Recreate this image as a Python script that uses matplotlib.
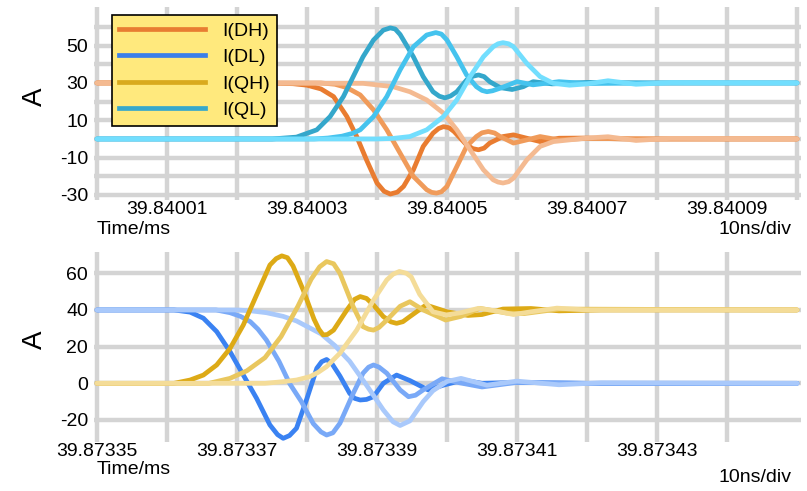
import matplotlib

matplotlib.use("Agg")

import matplotlib.pyplot as plt
from matplotlib.lines import Line2D

plt.rcParams["font.family"] = ["Liberation Sans", "DejaVu Sans"]

# time axis is in ns from the left edge of each panel (10 ns per grid division)
TOP_XTICKS = [0, 10, 20, 30, 40, 50, 60, 70, 80, 90, 100]
TOP_XLABELS = ["", "39.84001", "", "39.84003", "", "39.84005", "", "39.84007", "", "39.84009", ""]
TOP_YTICKS = [-30, -20, -10, 0, 10, 20, 30, 40, 50, 60]
TOP_YLABELS = ["-30", "", "-10", "", "10", "", "30", "", "50", ""]

BOT_XTICKS = [0, 10, 20, 30, 40, 50, 60, 70, 80, 90]
BOT_XLABELS = ["39.87335", "", "39.87337", "", "39.87339", "", "39.87341", "", "39.87343", ""]
BOT_YTICKS = [-20, 0, 20, 40, 60]
BOT_YLABELS = ["-20", "0", "20", "40", "60"]

# I(DH), three switching events (dark -> light)
DH1_T = [0, 24, 28, 30, 32, 33.8, 35.7, 37.1, 38.5, 40, 41, 41.9, 42.9, 43.8, 45.2, 46.6, 48, 48.8, 49.5,
         50.3, 51, 52.8, 53.7, 54.5, 55.3, 56.1, 58, 59.5, 61.4, 63.3, 66, 70, 75, 80, 100]
DH1_V = [30, 30, 29.6, 28.8, 26.8, 22.7, 12, 1.3, -11.2, -23.6, -28, -29.5, -28.5, -25.4, -16.5, -4, 3.1, 5.6, 6.6,
         6.0, 4, -3.2, -5.2, -5.8, -4.9, -2.2, 1.3, 2.2, 0.4, -1.4, 0.4, 0.5, 0, 0, 0]
DH2_T = [0, 32, 34, 35.7, 37.6, 39.5, 41.4, 43.3, 45.2, 47.1, 47.8, 48.5, 49.2, 50, 51.4, 52.8, 54.2, 55,
         55.9, 56.8, 57.6, 59.5, 61.4, 63.3, 66, 70, 80, 100]
DH2_V = [30, 30, 29.3, 27.5, 23.6, 15.6, 4.9, -7.6, -20.1, -27.2, -28.6, -29, -28.3, -25.4, -14.8, -4, 1.3, 3.3,
         4, 3.2, 1.3, -2.2, -0.5, 1.3, -0.5, 0.3, 0, 0]
DH3_T = [0, 38, 42.3, 44.7, 47.1, 49.5, 51.4, 53.3, 55.2, 56.6, 57.3, 58, 58.8, 59.5, 61.4, 63.3, 65.2,
         67.5, 70, 73, 77, 82, 100]
DH3_V = [30, 29.8, 28, 25.3, 20.9, 13.8, 4.9, -5.8, -16.5, -21.9, -23.1, -23.6, -22.9, -21, -11.2, -4, -1.4,
         -0.5, 0.5, 1.2, -0.8, 0.3, 0]

# I(QL)
QL1_T = [0, 25, 28.5, 31.4, 33.3, 35.2, 36.6, 38, 39.5, 40.9, 41.9, 42.6, 43.3, 45.2, 46.6, 48, 48.9, 49.7,
         50.5, 51.4, 52.8, 53.7, 54.5, 55.3, 56.1, 57.6, 59.3, 60.9, 62.3, 65, 70, 80, 100]
QL1_V = [0, 0, 1, 4.9, 12, 22.7, 33.4, 44, 53, 58.3, 59.5, 58.9, 56, 44, 33.4, 25.3, 22.9, 22,
         23, 25.3, 31.6, 33.6, 34.3, 33.4, 30.7, 27.5, 26.5, 28, 30.7, 29.5, 30.3, 30, 30]
QL2_T = [0, 31, 33, 35, 36.5, 37.6, 39.5, 41.4, 43.3, 45.2, 47.1, 48.4, 49.2, 50, 51.4, 52.8, 54.2, 55,
         55.7, 56.5, 57.6, 60, 62.3, 66, 70, 80, 100]
QL2_V = [0, 0, 0.5, 1.5, 3, 4.9, 12, 22.7, 37, 49.4, 55.7, 57, 56.2, 53, 44, 34.3, 28, 26,
         25.3, 25.8, 27.2, 30.7, 29, 30.7, 29.7, 30, 30]
QL3_T = [0, 40, 42.3, 44.7, 47.1, 49.5, 51.4, 53.3, 55.2, 56.6, 57.3, 58, 58.8, 59.5, 61.4, 63.3, 65.2,
         67.5, 70, 73, 77, 82, 100]
QL3_V = [0, 0, 0.3, 1.3, 4.9, 12, 20.9, 33.4, 44, 49.4, 51, 51.6, 51, 49.4, 40.5, 33.4, 29.8,
         28.8, 29.5, 31.2, 29.3, 30.2, 30]

# I(DL)
DL1_T = [0, 11, 13.3, 15.2, 17.1, 19, 20.9, 22.8, 24.7, 25.8, 26.6, 27.5, 28.5, 30, 31.4, 32.1, 32.8, 33.6,
         34.7, 36.1, 36.8, 37.6, 38.5, 39.5, 40.9, 42.8, 44.7, 47.3, 49.5, 52.3, 55, 60, 70, 100]
DL1_V = [40, 40, 38.8, 35.5, 28.2, 17.3, 4.5, -8.2, -22.7, -28, -30, -28.5, -24.5, -8.2, 8.2, 11.8, 13, 10.5,
         4, -5.5, -8.2, -9.1, -8.8, -7.3, 0, 4.5, 1.5, -3.6, -1, 1.8, 0, 0.5, 0, 0]
DL2_T = [0, 17, 19, 20.5, 21.9, 23, 24.2, 26, 27.5, 29.2, 30.9, 32, 32.8, 33.7, 34.7, 36.6, 38, 38.8, 39.5,
         40.3, 41.4, 43.3, 44.5, 45.5, 46.6, 49.3, 51.5, 55, 60, 70, 100]
DL2_V = [40, 40, 38.5, 36.5, 33.6, 29.5, 23.6, 12, 0, -10, -22, -26.5, -28.2, -27, -21.8, -5.5, 5.5, 8.8, 10,
         8.8, 5.5, -3.6, -7.3, -6.5, -3.6, 2.5, 0.5, -2, 0.5, 0, 0]
DL3_T = [0, 20, 22, 24.2, 26.6, 28.5, 30, 32, 34, 36.1, 38.5, 40.9, 42.3, 43.3, 44.7, 46.6, 48, 50, 52,
         55.7, 60, 66, 72, 100]
DL3_V = [40, 40, 39.5, 38.5, 36.5, 34, 31, 27, 20.5, 12, -1, -14.5, -21, -23, -20.5, -10, -4, 1, 2.7,
         -1, 1.2, -0.8, 0.3, 0]

# I(QH)
QH1_T = [0, 11, 13.3, 15.2, 17.1, 19, 20.9, 22.8, 24.7, 25.6, 26.4, 27.2, 28, 29.5, 31, 31.7, 32.3, 32.9,
         33.8, 35.7, 36.8, 37.6, 38.5, 39.5, 40.9, 42, 42.8, 43.7, 44.7, 47, 50, 53, 55, 58, 62, 66, 72, 100]
QH1_V = [0, 0, 1.8, 4.5, 10, 19, 31.8, 48.2, 64.5, 68, 69.5, 68.5, 64, 50.5, 35, 29.5, 26.4, 26.6,
         29, 40, 45.8, 47.3, 46.3, 42.7, 36.4, 33.5, 32.7, 33.6, 36.4, 42.7, 39, 37, 37.5, 40.5, 40.8, 39.5, 40, 40]
QH2_T = [0, 16, 19, 21.4, 24, 26.3, 28.7, 30.6, 31.8, 32.8, 33.8, 34.7, 36.6, 38, 38.8, 39.5, 40.3, 41.4,
         43.3, 44.7, 46.6, 49.8, 52, 54.7, 58.5, 61, 66, 100]
QH2_V = [0, 0, 2.7, 6.8, 14, 25.5, 42, 56.8, 63.5, 66.4, 65.2, 60, 41.8, 30.9, 29.5, 29, 30.5, 34.5,
         42, 44.5, 40, 34.5, 36.5, 40.9, 38.3, 38, 40.5, 40]
QH3_T = [0, 24, 26.6, 28.5, 30.4, 31.6, 32.8, 34.7, 37.1, 39.5, 41.4, 42.3, 43.2, 44.2, 44.9, 46.1,
         48, 49.9, 52, 54.5, 57, 59.5, 62, 65.7, 70, 100]
QH3_V = [0, 0, 0.9, 1.8, 3.6, 6, 9.1, 16.4, 29, 45.4, 56.4, 59.5, 61, 60, 58, 48.5,
         39, 37.3, 38.5, 40.9, 39.5, 37.5, 39, 41, 40, 40]

DH_COLORS = ["#E97C30", "#F09B5A", "#F4BA91"]
QL_COLORS = ["#34A7CB", "#45C3EE", "#72DEFE"]
DL_COLORS = ["#3A82F2", "#79A9F7", "#A9C9FB"]
QH_COLORS = ["#DDAA16", "#E9C75E", "#F4DC98"]

LEGEND_LABELS = ["I(DH)", "I(DL)", "I(QH)", "I(QL)"]
LEGEND_COLORS = ["#E87D32", "#3B7FEA", "#D9AA1E", "#37A8CB"]

GRID = "#D4D4D4"
LW = 3.4


def style_axes(ax, xticks, xlabels, yticks, ylabels, ylim):
    ax.set_xlim(-0.5, 100.5)
    ax.set_ylim(*ylim)
    ax.set_xticks(xticks)
    ax.set_xticklabels(xlabels)
    ax.set_yticks(yticks)
    ax.set_yticklabels(ylabels)
    ax.tick_params(length=0, labelsize=14, colors="black")
    ax.tick_params(axis="x", pad=1)
    ax.tick_params(axis="y", pad=4)
    for spine in ax.spines.values():
        spine.set_visible(False)
    ax.grid(True, color=GRID, linewidth=3.2)
    ax.set_axisbelow(True)


def draw(ax, series, colors):
    for (t, v), color in zip(series, colors):
        ax.plot(t, v, color=color, linewidth=LW, solid_capstyle="round",
                solid_joinstyle="round", clip_on=False)


fig = plt.figure(figsize=(8.07, 4.91), dpi=100)

ax_top = fig.add_axes([93.5 / 807, 291 / 491, 707 / 807, 193 / 491])
style_axes(ax_top, TOP_XTICKS, TOP_XLABELS, TOP_YTICKS, TOP_YLABELS, (-32.7, 70.7))
draw(ax_top, [(DH1_T, DH1_V), (DH2_T, DH2_V), (DH3_T, DH3_V)], DH_COLORS)
draw(ax_top, [(QL1_T, QL1_V), (QL2_T, QL2_V), (QL3_T, QL3_V)], QL_COLORS)

ax_bot = fig.add_axes([93.5 / 807, 49 / 491, 707 / 807, 190 / 491])
style_axes(ax_bot, BOT_XTICKS, BOT_XLABELS, BOT_YTICKS, BOT_YLABELS, (-32, 71.6))
draw(ax_bot, [(DL1_T, DL1_V), (DL2_T, DL2_V), (DL3_T, DL3_V)], DL_COLORS)
draw(ax_bot, [(QH1_T, QH1_V), (QH2_T, QH2_V), (QH3_T, QH3_V)], QH_COLORS)

W, H = 807, 491
for y_px in (97, 340):
    fig.text(35 / W, 1 - y_px / H, "A", fontsize=20, rotation=90, ha="center", va="center")
for y_px in (229, 470):
    fig.text(97 / W, 1 - y_px / H, "Time/ms", fontsize=14, ha="left", va="center")
for y_px in (230, 478):
    fig.text(792 / W, 1 - y_px / H, "10ns/div", fontsize=14, ha="right", va="center")

handles = [Line2D([], [], color=c, linewidth=LW) for c in LEGEND_COLORS]
leg = fig.legend(handles, LEGEND_LABELS, loc="upper left", bbox_to_anchor=(112 / W, 1 - 15 / H),
                 borderaxespad=0, fancybox=False, framealpha=1, facecolor="#FFE97D",
                 edgecolor="black", fontsize=14, handlelength=4.4, handletextpad=0.88,
                 labelspacing=0.45, borderpad=0.37)
leg.get_frame().set_linewidth(1.2)

fig.savefig("out.png", dpi=100)
